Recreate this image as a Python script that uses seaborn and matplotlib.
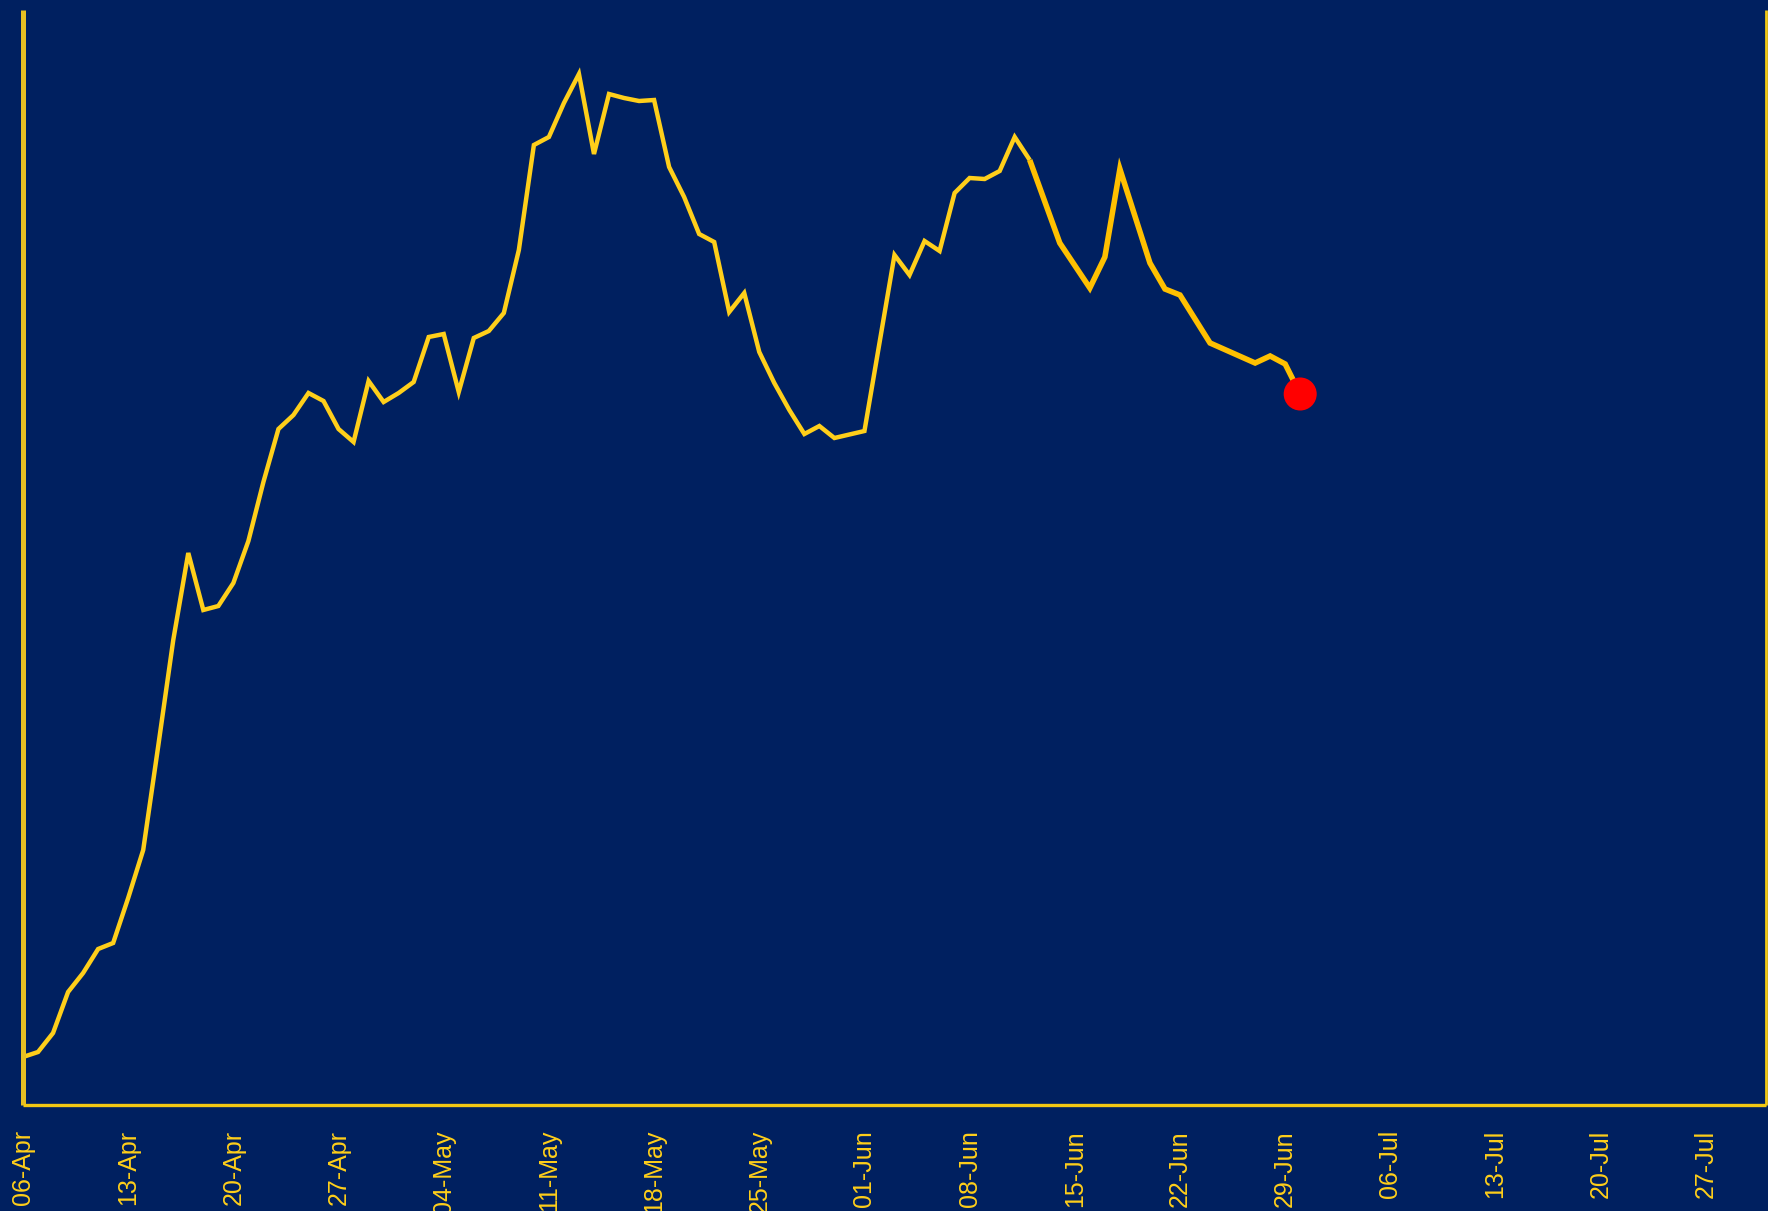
import matplotlib
matplotlib.use("Agg")
import matplotlib.pyplot as plt
import matplotlib.dates as mdates
import pandas as pd
import seaborn as sns

# ---- data ----
start = "2020-04-06"
days_main = [0, 1, 2, 3, 4, 5, 6, 7, 8, 9, 10, 11, 12, 13, 14, 15, 16, 17, 18, 19,
             20, 21, 22, 23, 24, 25, 26, 27, 28, 29, 30, 31, 32, 33, 34, 35, 36, 37,
             38, 39, 40, 41, 42, 43, 44, 45, 46, 47, 48, 49, 50, 51, 52, 53, 54, 56,
             58, 59, 60, 61, 62, 63, 64, 65, 66, 67]
values_main = [48, 53, 72, 113, 132, 156, 162, 207, 255, 359, 465, 552, 495, 499, 522,
               564, 623, 676, 690, 712, 704, 676, 663, 724, 703, 712, 723, 768, 771,
               713, 767, 774, 792, 855, 960, 968, 1002, 1031, 951, 1011, 1007, 1004,
               1005, 938, 908, 871, 863, 793, 812, 753, 722, 695, 671, 679, 667, 674,
               850, 830, 864, 854, 912, 927, 926, 934, 968, 945]
days_recent = [67, 69, 71, 72, 73, 75, 76, 77, 79, 82, 83, 84, 85]
values_recent = [945, 862, 817, 848, 936, 842, 816, 810, 762, 742, 749, 741, 711]
last_day = 85
last_value = 711
tick_dates = ["2020-04-06", "2020-04-13", "2020-04-20", "2020-04-27", "2020-05-04",
              "2020-05-11", "2020-05-18", "2020-05-25", "2020-06-01", "2020-06-08",
              "2020-06-15", "2020-06-22", "2020-06-29", "2020-07-06", "2020-07-13",
              "2020-07-20", "2020-07-27"]

NAVY = "#002060"
GOLD = "#FFCF1A"
GOLD2 = "#FFC000"

sns.set_style("white")
plt.rcParams["font.family"] = ["Liberation Sans", "DejaVu Sans"]

t0 = pd.Timestamp(start)
df_main = pd.DataFrame({"date": [t0 + pd.Timedelta(days=d) for d in days_main],
                        "value": values_main})
df_recent = pd.DataFrame({"date": [t0 + pd.Timedelta(days=d) for d in days_recent],
                          "value": values_recent})
df_last = pd.DataFrame({"date": [t0 + pd.Timedelta(days=last_day)], "value": [last_value]})

fig = plt.figure(figsize=(17.68, 12.11), dpi=100, facecolor=NAVY)
ax = fig.add_axes([23 / 1768, 1 - 1105 / 1211, (1766 - 23) / 1768, (1105 - 10) / 1211])
ax.set_facecolor(NAVY)

sns.lineplot(data=df_main, x="date", y="value", ax=ax, color=GOLD, linewidth=3.2,
             solid_joinstyle="miter", solid_capstyle="butt")
sns.lineplot(data=df_recent, x="date", y="value", ax=ax, color=GOLD2, linewidth=4.0,
             solid_joinstyle="miter", solid_capstyle="butt")
sns.scatterplot(data=df_last, x="date", y="value", ax=ax, color="#FF0000", s=566,
                edgecolor="none", linewidth=0, zorder=5)

ax.set_xlim(t0, t0 + pd.Timedelta(days=116))
ax.set_ylim(0, 1095)
ax.set_xticks(pd.to_datetime(tick_dates))
ax.xaxis.set_major_formatter(mdates.DateFormatter("%d-%b"))
ax.tick_params(axis="x", length=0, pad=18, labelsize=18, labelcolor=GOLD)
for lbl in ax.get_xticklabels():
    lbl.set_rotation(90)
    lbl.set_ha("center")
    lbl.set_va("top")
ax.set_yticks([])
ax.set_xlabel("")
ax.set_ylabel("")

ax.spines["top"].set_visible(False)
for side in ("left", "bottom", "right"):
    ax.spines[side].set_capstyle("butt")
ax.spines["left"].set_color("#E8C022")
ax.spines["left"].set_linewidth(3.6)
ax.spines["bottom"].set_color("#F2C814")
ax.spines["bottom"].set_linewidth(2.4)
ax.spines["right"].set_color("#F2C814")
ax.spines["right"].set_linewidth(2.0)

fig.savefig("out.png", dpi=100, facecolor=NAVY)
